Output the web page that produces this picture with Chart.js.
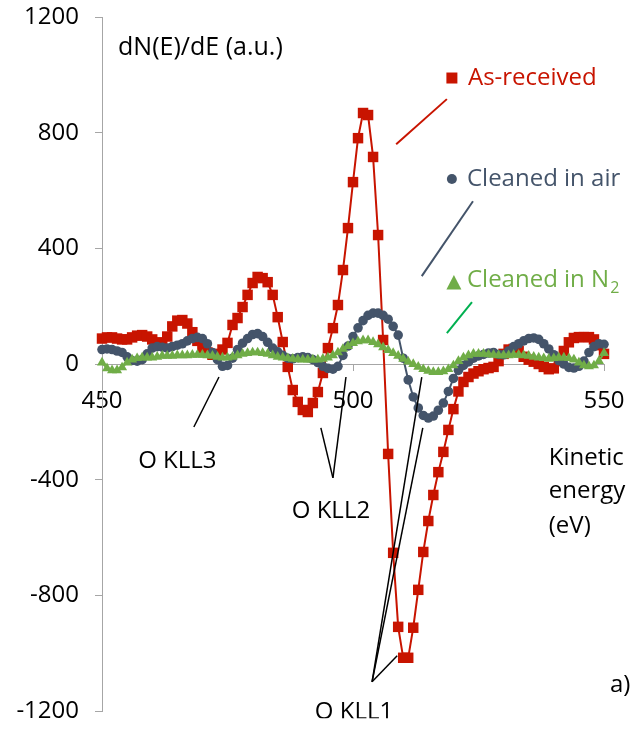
<!DOCTYPE html>
<html lang="en">
<head>
<meta charset="UTF-8">
<title>O KLL Auger spectra</title>
<script src="https://cdn.jsdelivr.net/npm/chart.js"></script>
<style>
  body { margin: 0; background: #fff; }
  #wrap { width: 632px; height: 731px; }
</style>
</head>
<body>
<div id="wrap"><canvas id="auger" width="632" height="731"></canvas></div>
<script>
// kinetic energy (eV), one point per eV
const energy = [
  450, 451, 452, 453, 454, 455, 456, 457, 458, 459,
  460, 461, 462, 463, 464, 465, 466, 467, 468, 469,
  470, 471, 472, 473, 474, 475, 476, 477, 478, 479,
  480, 481, 482, 483, 484, 485, 486, 487, 488, 489,
  490, 491, 492, 493, 494, 495, 496, 497, 498, 499,
  500, 501, 502, 503, 504, 505, 506, 507, 508, 509,
  510, 511, 512, 513, 514, 515, 516, 517, 518, 519,
  520, 521, 522, 523, 524, 525, 526, 527, 528, 529,
  530, 531, 532, 533, 534, 535, 536, 537, 538, 539,
  540, 541, 542, 543, 544, 545, 546, 547, 548, 549,
  550
];

// dN(E)/dE
const asReceived = [
  88, 92, 92, 88, 85, 85, 92, 98, 100, 95,
  85, 75, 72, 95, 130, 150, 152, 140, 110, 80,
  55, 40, 32, 35, 50, 73, 135, 159, 197, 239,
  280, 301, 297, 283, 239, 162, 76, -10, -90, -131,
  -159, -166, -135, -97, -31, 55, 124, 204, 325, 470,
  629, 781, 868, 861, 716, 446, 83, -311, -653, -909,
  -1016, -1016, -912, -781, -650, -543, -453, -374, -304, -228,
  -156, -95, -62, -45, -33, -25, -18, -14, -10, 10,
  35, 50, 52, 45, 25, 15, 8, 0, -10, -18,
  -15, 10, 45, 75, 90, 93, 93, 93, 85, 65,
  35
];
const cleanedAir = [
  50, 52, 50, 45, 40, 25, 12, 10, 15, 35,
  55, 60, 58, 55, 60, 65, 70, 80, 88, 92,
  88, 70, 40, 15, -8, -5, 20, 50, 72, 88,
  102, 105, 95, 75, 55, 42, 30, 20, 18, 22,
  25, 22, 15, 5, -8, -15, -18, -8, 30, 62,
  95, 125, 150, 168, 176, 176, 168, 155, 130, 100,
  20, -55, -114, -152, -178, -187, -180, -160, -135, -95,
  -50, -22, -5, 7, 20, 28, 33, 38, 40, 33,
  32, 45, 60, 70, 80, 88, 90, 85, 70, 52,
  32, 12, 0, -12, -14, -8, 10, 40, 60, 70,
  68
];
const cleanedN2 = [
  5, -15, -22, -22, -12, 5, 15, 20, 22, 22,
  22, 25, 28, 28, 28, 30, 30, 30, 32, 32,
  32, 30, 28, 25, 22, 22, 25, 30, 35, 38,
  40, 40, 38, 35, 30, 25, 22, 20, 18, 16,
  15, 15, 15, 15, 18, 22, 30, 40, 52, 62,
  72, 78, 82, 82, 76, 68, 58, 48, 38, 28,
  18, 8, 0, -10, -18, -24, -28, -28, -25, -18,
  -5, 10, 22, 30, 35, 35, 35, 33, 32, 30,
  30, 30, 32, 32, 30, 28, 25, 22, 20, 18,
  20, 22, 22, 20, 15, 5, -5, -8, -5, 10,
  38
];

const xTicks = [450, 500, 550];
const yTicks = [-1200, -800, -400, 0, 400, 800, 1200];

const RED = '#c81400';
const SLATE = '#44546a';
const GREEN = '#70ad47';
const FONT = "'Open Sans', sans-serif";

// annotation text, placed in data units (eV, a.u.)
const notes = [
  { text: 'dN(E)/dE (a.u.)', x: 453.2, y: 1068, color: '#000', size: 25 },
  { text: 'As-received', x: 522.9, y: 964, color: RED },
  { text: 'Cleaned in air', x: 522.7, y: 615, color: SLATE },
  { text: 'Cleaned in N', x: 522.7, y: 266, color: GREEN, sub: '2' },
  { text: 'O KLL3', x: 457.2, y: -360, color: '#000' },
  { text: 'O KLL2', x: 487.8, y: -532, color: '#000' },
  { text: 'O KLL1', x: 492.4, y: -1228, color: '#000', cut: -1225 },
  { text: 'Kinetic', x: 539.0, y: -349, color: '#000' },
  { text: 'energy', x: 539.0, y: -463, color: '#000' },
  { text: '(eV)', x: 539.0, y: -584, color: '#000' },
  { text: 'a)', x: 551.2, y: -1134, color: '#000' }
];

// leader lines [x1, y1, x2, y2]
const leaders = [
  { pts: [518.7, 916, 508.6, 760], color: RED, w: 2 },
  { pts: [523.9, 563, 513.7, 304], color: SLATE, w: 2 },
  { pts: [523.7, 214, 518.7, 107], color: '#00b050', w: 2 },
  { pts: [473.3, -45, 468.3, -218], color: '#000', w: 1.5 },
  { pts: [493.6, -221, 496.0, -394], color: '#000', w: 1.5 },
  { pts: [498.6, -45, 496.0, -394], color: '#000', w: 1.5 },
  { pts: [503.8, -1099, 513.7, -45], color: '#000', w: 1.5 },
  { pts: [503.8, -1099, 513.9, -221], color: '#000', w: 1.5 },
  { pts: [503.8, -1099, 508.8, -1009], color: '#000', w: 1.5 }
];

// legend markers next to the series names
const keys = [
  { x: 519.7, y: 989, shape: 'rect', color: RED },
  { x: 519.7, y: 640, shape: 'circle', color: SLATE },
  { x: 520.1, y: 280, shape: 'triangle', color: GREEN }
];

function pairs(vals) {
  return energy.map((e, i) => ({ x: e, y: vals[i] }));
}

const annotate = {
  id: 'annotate',
  afterDatasetsDraw(chart) {
    const { ctx, scales: { x, y } } = chart;
    ctx.save();
    ctx.lineCap = 'butt';
    leaders.forEach(l => {
      ctx.strokeStyle = l.color;
      ctx.lineWidth = l.w;
      ctx.beginPath();
      ctx.moveTo(x.getPixelForValue(l.pts[0]), y.getPixelForValue(l.pts[1]));
      ctx.lineTo(x.getPixelForValue(l.pts[2]), y.getPixelForValue(l.pts[3]));
      ctx.stroke();
    });

    keys.forEach(k => {
      const px = x.getPixelForValue(k.x);
      const py = y.getPixelForValue(k.y);
      ctx.fillStyle = k.color;
      ctx.beginPath();
      if (k.shape === 'rect') {
        ctx.rect(px - 5.5, py - 5.5, 11, 11);
      } else if (k.shape === 'circle') {
        ctx.arc(px, py, 5, 0, Math.PI * 2);
      } else {
        ctx.moveTo(px, py - 8);
        ctx.lineTo(px + 7.5, py + 6.5);
        ctx.lineTo(px - 7.5, py + 6.5);
        ctx.closePath();
      }
      ctx.fill();
    });

    ctx.textBaseline = 'alphabetic';
    ctx.textAlign = 'left';
    notes.forEach(n => {
      const px = x.getPixelForValue(n.x);
      const py = y.getPixelForValue(n.y);
      ctx.save();
      if (n.cut !== undefined) {
        // the picture's lowest label is cut off just under its letters
        ctx.beginPath();
        ctx.rect(0, 0, chart.width, y.getPixelForValue(n.cut));
        ctx.clip();
      }
      ctx.fillStyle = n.color;
      ctx.font = (n.size || 24) + 'px ' + FONT;
      ctx.fillText(n.text, px, py);
      if (n.sub) {
        const w = ctx.measureText(n.text).width;
        ctx.font = '16px ' + FONT;
        ctx.fillText(n.sub, px + w + 1, py + 6);
      }
      ctx.restore();
    });
    ctx.restore();
  }
};

new Chart(document.getElementById('auger'), {
  type: 'scatter',
  data: {
    datasets: [
      {
        label: 'As-received',
        data: pairs(asReceived),
        showLine: true,
        borderColor: RED,
        backgroundColor: RED,
        borderWidth: 2,
        pointStyle: 'rect',
        pointRadius: 7.4,
        pointBorderWidth: 0,
        clip: false,
        order: 3
      },
      {
        label: 'Cleaned in air',
        data: pairs(cleanedAir),
        showLine: true,
        borderColor: SLATE,
        backgroundColor: SLATE,
        borderWidth: 2,
        pointStyle: 'circle',
        pointRadius: 4.8,
        pointBorderWidth: 0,
        clip: false,
        order: 2
      },
      {
        label: 'Cleaned in N2',
        data: pairs(cleanedN2),
        showLine: true,
        borderColor: GREEN,
        backgroundColor: GREEN,
        borderWidth: 2,
        pointStyle: 'triangle',
        pointRadius: 5.8,
        pointBorderWidth: 0,
        clip: false,
        order: 1
      }
    ]
  },
  options: {
    responsive: false,
    animation: false,
    devicePixelRatio: 1,
    layout: { padding: { left: 0, top: 17, right: 28, bottom: 20 } },
    plugins: {
      legend: { display: false },
      tooltip: { enabled: false }
    },
    scales: {
      x: {
        type: 'linear',
        position: { y: 0 },
        min: 450,
        max: 550,
        afterBuildTicks: s => { s.ticks = xTicks.map(v => ({ value: v })); },
        afterFit: s => { s.paddingLeft = 0; s.paddingRight = 0; },
        grid: { drawOnChartArea: false, drawTicks: true, tickLength: 6, tickColor: '#a6a6a6' },
        border: { color: '#a6a6a6', width: 1 },
        ticks: { color: '#000', font: { family: FONT, size: 24 }, padding: 17, maxRotation: 0,
                 callback: v => String(v) }
      },
      y: {
        type: 'linear',
        position: 'left',
        min: -1200,
        max: 1200,
        afterBuildTicks: s => { s.ticks = yTicks.map(v => ({ value: v })); },
        afterFit: s => { s.width = 102; s.paddingTop = 0; s.paddingBottom = 0; },
        grid: { drawOnChartArea: false, drawTicks: true, tickLength: 7, tickColor: '#a6a6a6' },
        border: { color: '#a6a6a6', width: 1 },
        ticks: { color: '#000', font: { family: FONT, size: 24 }, padding: 16,
                 callback: v => String(v) }
      }
    }
  },
  plugins: [annotate]
});
</script>
</body>
</html>
